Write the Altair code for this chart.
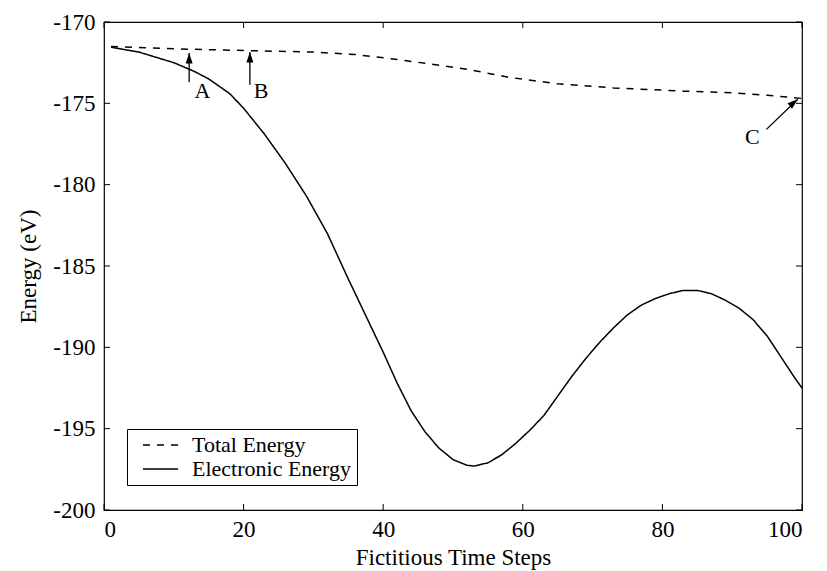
import altair as alt
import pandas as pd

FONT = "Liberation Serif"

# Electronic energy (solid)
elec_steps = [1, 5, 10, 13, 15, 18, 20, 23, 26, 29, 32, 35, 38, 40, 42, 44, 46, 48, 50,
              52, 53, 55, 57, 59, 61, 63, 65, 67, 69, 71, 73, 75, 77, 79, 81, 83, 85,
              87, 89, 91, 93, 95, 97, 99, 100]
elec_vals = [-171.55, -171.85, -172.5, -173.05, -173.5, -174.4, -175.3, -176.9, -178.7,
             -180.7, -183.0, -185.8, -188.5, -190.3, -192.2, -193.9, -195.2, -196.2,
             -196.9, -197.25, -197.3, -197.1, -196.6, -195.9, -195.1, -194.2, -193.0,
             -191.8, -190.7, -189.7, -188.8, -188.0, -187.4, -187.0, -186.7, -186.5,
             -186.5, -186.7, -187.1, -187.6, -188.3, -189.3, -190.6, -191.9, -192.5]

# Total energy (dashed)
tot_steps = [1, 10, 20, 30, 36, 42, 47, 52, 58, 65, 73, 83, 90, 95, 100]
tot_vals = [-171.5, -171.65, -171.75, -171.85, -172.0, -172.3, -172.6, -172.9, -173.4,
            -173.8, -174.05, -174.25, -174.35, -174.5, -174.7]

series_names = ["Total Energy", "Electronic Energy"]

# Annotation arrows (tail -> tip) and labels
arrow_names = ["A", "B", "C"]
arrow_x1 = [12.2, 20.9, 94.9]
arrow_y1 = [-173.7, -173.85, -176.6]
arrow_x2 = [12.2, 20.9, 99.4]
arrow_y2 = [-171.9, -171.85, -174.75]
arrow_angle = [0, 0, 50]
label_x = [14.1, 22.5, 92.9]
label_y = [-174.25, -174.25, -177.1]

x_ticks = [0, 20, 40, 60, 80, 100]
y_ticks = [-200, -195, -190, -185, -180, -175, -170]

W, H = 698, 488

lines_df = pd.concat([
    pd.DataFrame({"step": tot_steps, "energy": tot_vals, "series": series_names[0]}),
    pd.DataFrame({"step": elec_steps, "energy": elec_vals, "series": series_names[1]}),
])
arrows_df = pd.DataFrame({"name": arrow_names, "x1": arrow_x1, "y1": arrow_y1,
                          "x2": arrow_x2, "y2": arrow_y2, "angle": arrow_angle,
                          "lx": label_x, "ly": label_y})
xt_df = pd.DataFrame({"t": x_ticks})
yt_df = pd.DataFrame({"t": y_ticks})

xscale = alt.Scale(domain=[0, 100], nice=False, zero=False)
yscale = alt.Scale(domain=[-200, -170], nice=False, zero=False)

xaxis = alt.Axis(values=x_ticks, domain=False, ticks=False, grid=False,
                 labelExpr="toString(datum.value)",
                 labelFont=FONT, labelFontSize=23, labelPadding=8, labelColor="black",
                 title="Fictitious Time Steps", titleFont=FONT, titleFontSize=23,
                 titleFontWeight="normal", titleColor="black", titlePadding=5)
yaxis = alt.Axis(values=y_ticks, domain=False, ticks=False, grid=False,
                 labelExpr="toString(datum.value)",
                 labelFont=FONT, labelFontSize=23, labelPadding=9, labelColor="black",
                 title="Energy (eV)", titleFont=FONT, titleFontSize=23,
                 titleFontWeight="normal", titleColor="black", titlePadding=12)

lines = alt.Chart(lines_df).mark_line(color="black", strokeWidth=1.5).encode(
    x=alt.X("step:Q", scale=xscale, axis=xaxis),
    y=alt.Y("energy:Q", scale=yscale, axis=yaxis),
    strokeDash=alt.StrokeDash(
        "series:N",
        scale=alt.Scale(domain=series_names, range=[[7, 7], [1, 0]]),
        legend=alt.Legend(orient="none", legendX=23, legendY=407, title=None,
                          strokeColor="black", fillColor="white", padding=5,
                          labelFont=FONT, labelFontSize=22, labelColor="black",
                          symbolType="M0,0H4.375", symbolSize=256,
                          symbolStrokeWidth=1.5, symbolStrokeColor="black",
                          labelOffset=38, rowPadding=2, cornerRadius=0),
    ),
    detail="series:N",
)

shafts = alt.Chart(arrows_df).mark_rule(color="black", strokeWidth=1.3).encode(
    x=alt.X("x1:Q", scale=xscale), y=alt.Y("y1:Q", scale=yscale),
    x2="x2:Q", y2="y2:Q",
)
heads = alt.Chart(arrows_df).mark_point(
    shape="M0,0L-0.7,2.1L0.7,2.1Z", filled=True, color="black", size=100, opacity=1
).encode(
    x=alt.X("x2:Q", scale=xscale), y=alt.Y("y2:Q", scale=yscale),
    angle=alt.Angle("angle:Q", scale=None),
)
labels = alt.Chart(arrows_df).mark_text(font=FONT, fontSize=22, color="black",
                                        align="center", baseline="middle").encode(
    x=alt.X("lx:Q", scale=xscale), y=alt.Y("ly:Q", scale=yscale), text="name:N",
)

TL = 6
tick_b = alt.Chart(xt_df).mark_rule(color="black", strokeWidth=1).encode(
    x=alt.X("t:Q", scale=xscale), y=alt.value(H), y2=alt.value(H - TL))
tick_t = alt.Chart(xt_df).mark_rule(color="black", strokeWidth=1).encode(
    x=alt.X("t:Q", scale=xscale), y=alt.value(0), y2=alt.value(TL))
tick_l = alt.Chart(yt_df).mark_rule(color="black", strokeWidth=1).encode(
    y=alt.Y("t:Q", scale=yscale), x=alt.value(0), x2=alt.value(TL))
tick_r = alt.Chart(yt_df).mark_rule(color="black", strokeWidth=1).encode(
    y=alt.Y("t:Q", scale=yscale), x=alt.value(W), x2=alt.value(W - TL))

chart = alt.layer(lines, shafts, heads, labels, tick_b, tick_t, tick_l, tick_r).properties(
    width=W, height=H,
    padding={"left": 104, "top": 22, "right": 25, "bottom": 61},
    autosize=alt.AutoSizeParams(type="none"),
    background="white",
).configure_view(stroke="black", strokeWidth=1.2)

chart.save("out.html", embed_options={"renderer": "svg", "actions": False})
